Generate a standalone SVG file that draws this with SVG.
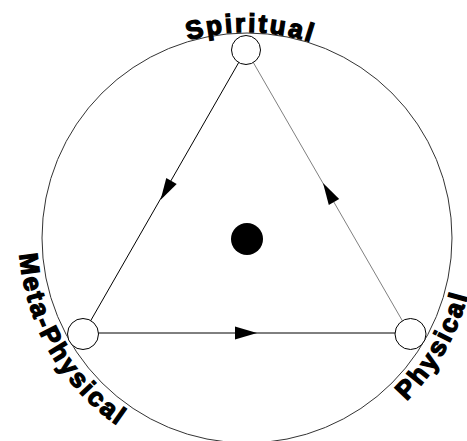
<svg xmlns="http://www.w3.org/2000/svg" xmlns:xlink="http://www.w3.org/1999/xlink" width="467" height="441" viewBox="0 0 467 441">
<style>
.lbl{font-family:"Liberation Sans",Arial,sans-serif;font-weight:bold;font-size:26px;fill:#000;stroke:#000;stroke-width:1.3;letter-spacing:2.5px}
.node{fill:#fff;stroke:#000;stroke-width:1}
.edge{stroke:#000;stroke-width:1;fill:none}
.head{fill:#000;stroke:none}
</style>
<defs>
<path id="arcTop" d="M91.5,102.8 A206,206 0 0 1 407.1,108.4"/>
<path id="arcLeft" d="M32.8,160 A228,228 0 0 0 207.4,462.5"/>
<path id="arcRight" d="M283,463 A228,228 0 0 0 460,156"/>
</defs>
<rect width="467" height="441" fill="#fff"/>
<circle cx="247" cy="238" r="205" fill="none" stroke="#333" stroke-width="1"/>
<g id="connectors">
<line class="edge" x1="239" y1="62" x2="90.5" y2="321"/>
<polygon class="head" points="160.5,200 176.7,183.9 166.3,177.9"/>
<line class="edge" x1="402.5" y1="321" x2="253" y2="62" style="stroke:#808080"/>
<polygon class="head" points="323,183 339.2,199 328.8,205"/>
<line class="edge" x1="98" y1="333" x2="395" y2="333"/>
<polygon class="head" points="257,333 235,326.5 235,339.5"/>
</g>
<g id="spiritual">
<circle class="node" cx="246" cy="50" r="14.5"/>
<text class="lbl"><textPath xlink:href="#arcTop" startOffset="50%" text-anchor="middle">Spiritual</textPath></text>
</g>
<g id="metaphysical">
<circle class="node" cx="83" cy="334" r="15.5"/>
<text class="lbl"><textPath xlink:href="#arcLeft" startOffset="50%" text-anchor="middle">Meta-Physical</textPath></text>
</g>
<g id="physical">
<circle class="node" cx="410.5" cy="334" r="15.5"/>
<text class="lbl"><textPath xlink:href="#arcRight" startOffset="50%" text-anchor="middle">Physical</textPath></text>
</g>
<g id="center">
<circle cx="247" cy="239" r="16" fill="#000"/>
</g>
</svg>
